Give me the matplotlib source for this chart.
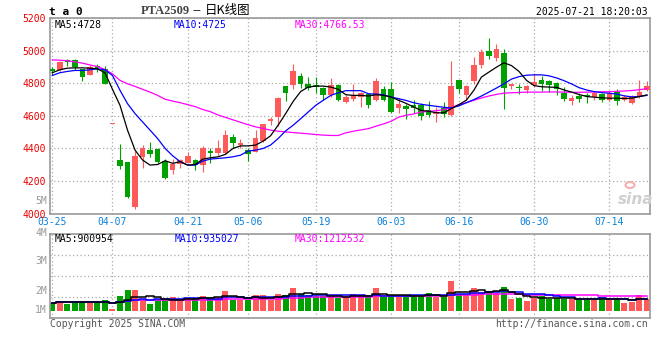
import matplotlib
matplotlib.use('Agg')
import matplotlib.pyplot as plt
from matplotlib.patches import Ellipse
import numpy as np
import pandas as pd

# ---------------- data ----------------
dates = ['03-25','03-26','03-27','03-28','03-31',
         '04-01','04-02','04-03','04-07','04-08','04-09','04-10','04-11','04-14','04-15','04-16','04-17','04-18',
         '04-21','04-22','04-23','04-24','04-25','04-28','04-29','04-30',
         '05-06','05-07','05-08','05-09','05-12','05-13','05-14','05-15','05-16','05-19','05-20','05-21','05-22','05-23',
         '05-26','05-27','05-28','05-29','05-30',
         '06-03','06-04','06-05','06-06','06-09','06-10','06-11','06-12','06-13','06-16','06-17','06-18','06-19','06-20',
         '06-23','06-24','06-25','06-26','06-27','06-30',
         '07-01','07-02','07-03','07-04','07-07','07-08','07-09','07-10','07-11','07-14','07-15','07-16','07-17','07-18','07-21']

opens = [4888,4878,4943,4943,4888,4853,4908,4888,4548,4328,4316,4037,4348,4389,4393,4324,
         4269,4301,4312,4330,4297,4381,4369,4369,4468,4420,4389,4379,4444,4566,4593,4780,
         4786,4847,4796,4786,4770,4725,4790,4684,4705,4715,4735,4695,4766,4762,4648,4660,
         4668,4668,4633,4609,4648,4603,4817,4725,4813,4914,5000,4953,4984,4782,4776,4756,
         4786,4817,4811,4802,4741,4692,4719,4729,4713,4733,4695,4745,4695,4680,4713,4756]
closes = [4872,4929,4929,4898,4837,4898,4892,4796,4548,4293,4104,4352,4403,4365,4318,4216,
          4301,4326,4350,4297,4405,4369,4403,4481,4434,4434,4363,4466,4548,4582,4709,4741,
          4872,4796,4770,4776,4725,4786,4695,4715,4729,4739,4664,4811,4695,4623,4672,4644,
          4648,4599,4607,4623,4613,4780,4766,4780,4914,4990,4969,5010,4770,4792,4768,4782,
          4807,4796,4786,4762,4705,4709,4705,4721,4741,4695,4741,4688,4713,4713,4745,4782]
highs = [4898,4935,4951,4949,4890,4910,4918,4908,4548,4426,4318,4383,4420,4440,4399,4334,
         4334,4334,4379,4334,4413,4399,4450,4511,4487,4460,4403,4511,4552,4593,4717,4782,
         4919,4864,4837,4837,4776,4831,4796,4725,4796,4745,4739,4831,4780,4807,4709,4674,
         4695,4680,4688,4654,4684,4939,4821,4786,4959,5010,5075,5041,5010,4796,4796,4786,
         4864,4847,4817,4807,4776,4725,4741,4741,4754,4741,4749,4762,4725,4725,4817,4811]
lows = [4851,4875,4908,4878,4813,4850,4868,4794,4548,4273,4098,4029,4281,4348,4308,4212,
        4240,4281,4308,4267,4257,4308,4358,4363,4403,4399,4322,4375,4440,4542,4538,4688,
        4762,4770,4756,4741,4699,4715,4688,4680,4688,4654,4648,4688,4688,4617,4619,4582,
        4619,4572,4593,4562,4593,4599,4739,4695,4796,4892,4949,4933,4644,4762,4731,4741,
        4776,4749,4745,4729,4688,4664,4684,4680,4695,4684,4688,4664,4688,4674,4709,4749]

ma5 = [4864,4882,4892,4894,4894,4892,4888,4864,4762,4664,4511,4389,4328,4297,4301,4324,
       4308,4318,4297,4301,4334,4342,4348,4363,4399,4415,4415,4420,4444,4477,4542,4613,
       4688,4749,4776,4782,4782,4776,4762,4729,4725,4725,4721,4729,4725,4715,4695,4676,
       4654,4633,4627,4619,4617,4644,4668,4695,4756,4837,4868,4898,4925,4908,4872,4817,
       4785,4778,4776,4774,4758,4745,4730,4718,4714,4710,4708,4708,4706,4708,4718,4728]
ma10 = [4847,4864,4872,4878,4878,4882,4888,4882,4847,4756,4674,4613,4562,4511,4460,4399,
        4354,4318,4297,4297,4322,4334,4338,4342,4348,4358,4383,4389,4399,4420,4460,4507,
        4542,4582,4623,4664,4695,4725,4741,4754,4754,4754,4735,4733,4729,4715,4705,4694,
        4680,4670,4664,4658,4652,4648,4660,4680,4699,4721,4745,4770,4796,4825,4840,4849,
        4851,4851,4845,4832,4815,4795,4772,4758,4748,4742,4738,4733,4722,4716,4718,4725]
ma30 = [4943,4941,4937,4931,4923,4912,4902,4884,4857,4817,4796,4780,4762,4745,4725,4701,
        4690,4680,4668,4656,4638,4625,4605,4590,4575,4560,4545,4532,4522,4512,4505,4501,
        4497,4493,4489,4485,4481,4479,4479,4495,4505,4513,4521,4536,4550,4566,4591,4603,
        4611,4623,4627,4631,4637,4650,4668,4680,4695,4709,4721,4731,4739,4741,4743,4745,
        4745,4745,4746,4746,4745,4744,4744,4745,4746,4747,4748,4750,4752,4755,4760,4766.53]

# volume, millions of lots
volumes = [0.60,0.82,0.57,0.69,0.69,0.69,0.69,0.86,0.14,1.18,1.64,1.64,0.86,0.57,0.86,0.86,
           1.11,0.86,1.01,1.01,1.18,1.11,1.11,1.61,0.86,0.86,0.86,1.27,1.27,0.86,1.37,1.27,
           1.81,1.32,1.27,1.18,1.18,1.11,1.01,1.11,1.35,1.27,1.11,1.81,1.11,1.18,1.11,1.18,
           1.27,1.18,1.40,1.11,1.11,2.39,1.37,1.37,1.81,1.54,1.59,1.44,1.88,0.94,1.01,0.79,
           1.06,1.18,0.94,1.06,0.94,0.94,0.94,0.84,0.94,1.11,0.94,1.01,0.62,0.72,1.27,0.94]

tick_dates = ['03-25','04-07','04-21','05-06','05-19','06-03','06-16','06-30','07-14']
price_ticks = [4000, 4200, 4400, 4600, 4800, 5000, 5200]
vol_labels = ['5M', '4M', '3M', '2M', '1M']

title_code = 'PTA2509'
title_name = '日K线图'
stamp = '2025-07-21 18:20:03'
ma_price_text = ['MA5:4728', 'MA10:4725', 'MA30:4766.53']
ma_vol_text = ['MA5:900954', 'MA10:935027', 'MA30:1212532']

# ---------------- style ----------------
RED = '#ff5a5a'
GREEN = '#00a000'
BLUE_TXT = '#0a80d8'
LBL_RED = '#e80000'
GRAY = '#999999'
MONO = 'DejaVu Sans Mono'
W, H = 660, 360

fig = plt.figure(figsize=(W/100, H/100), dpi=100)
fig.patch.set_facecolor('white')

def rect(l, t, r, b):
    return [l/W, 1-b/H, (r-l)/W, (b-t)/H]

def ftext(px, py, s, **kw):
    return fig.text(px/W, 1-py/H, s, **kw)

ax = fig.add_axes(rect(50, 18, 650, 213.5))
axv = fig.add_axes(rect(50, 234, 650, 318.3))

o = np.array(opens, float); c = np.array(closes, float)
hi = np.array(highs, float); lo = np.array(lows, float)
x = np.arange(len(dates))
up = c >= o
col = np.where(up, RED, GREEN)

# candles
ax.vlines(x, lo, hi, colors=col, lw=0.8, zorder=2)
ax.bar(x, np.maximum(np.abs(c-o), 6), bottom=np.minimum(o, c), width=0.74,
       color=col, lw=0, zorder=3)
ax.plot(x, ma30, color='#ff00ff', lw=0.9, zorder=4)
ax.plot(x, ma10, color='#0000ff', lw=0.9, zorder=5)
ax.plot(x, ma5, color='black', lw=0.9, zorder=6)

# volume
v = pd.Series(volumes)
axv.bar(x, v, width=0.8, color=col, lw=0, zorder=2)
for n, cc in ((30, '#ff00ff'), (10, '#0000ff'), (5, 'black')):
    axv.plot(x, v.rolling(n, min_periods=1).mean(), color=cc, lw=1.1,
             drawstyle='steps-mid', zorder=3)

tick_idx = [dates.index(d) for d in tick_dates]
for a in (ax, axv):
    a.set_xlim(-0.3, 79.4)
    for s in a.spines.values():
        s.set_color(GRAY); s.set_linewidth(1.2)
    a.tick_params(length=0)
    a.set_xticks(tick_idx)
    a.grid(True, color='#aaaaaa', ls=(0, (1, 2)), lw=0.9)
    a.set_axisbelow(True)

ax.set_ylim(4000, 5200)
ax.set_yticks(price_ticks)
ax.set_yticklabels([str(p) for p in price_ticks], color=LBL_RED,
                   fontsize=7, family=MONO)
ax.tick_params(axis='y', pad=3)
ax.set_xticklabels(tick_dates, color=BLUE_TXT, fontsize=7, family=MONO)
ax.tick_params(axis='x', pad=2.5)

vlo, vhi = -0.613, 6.185
axv.set_ylim(vlo, vhi)
axv.set_yticks(np.linspace(vlo, vhi, 5)[1:-1])
axv.set_yticklabels([])
axv.set_xticklabels([])

# volume axis labels (Sina places these at fixed rows)
for s, py in zip(vol_labels, [201, 232.5, 261, 291, 310]):
    ftext(47, py, s, ha='right', va='center', color=GRAY, fontsize=7, family=MONO)

# header
ftext(49, 12, 't a 0', ha='left', va='center', fontsize=8, family=MONO,
      fontweight='bold', color='black')
ftext(140.5, 10.5, title_code, ha='left', va='center', fontsize=9,
      family='Liberation Serif', color='#444444', fontweight='bold')
ftext(192, 10.5, '－', ha='left', va='center', fontsize=7,
      family=['Noto Sans CJK SC', 'DejaVu Sans'], color='black')
ftext(205, 10.5, title_name, ha='left', va='center', fontsize=9,
      family=['Noto Sans CJK SC', 'DejaVu Sans'], color='black')
ftext(648, 12.3, stamp, ha='right', va='center', fontsize=7, family=MONO, color='black')

for s, px, cc in zip(ma_price_text, [54.3, 174, 294.7], ['black', '#0000ff', '#ff00ff']):
    ftext(px, 24.5, s, ha='left', va='center', fontsize=7, family=MONO, color=cc)
for s, px, cc in zip(ma_vol_text, [54.3, 175, 295], ['black', '#0000ff', '#ff00ff']):
    ftext(px, 238.5, s, ha='left', va='center', fontsize=7, family=MONO, color=cc)

ftext(50, 324, 'Copyright 2025 SINA.COM', ha='left', va='center', fontsize=7,
      family=MONO, color='#555555')
ftext(648, 324, 'http://finance.sina.com.cn', ha='right', va='center', fontsize=7,
      family=MONO, color='#555555')

# watermark
ftext(636, 200, 'sina', ha='center', va='center', fontsize=11, fontstyle='italic',
      fontweight='bold', color='#cfcfcf', family='DejaVu Sans')
fig.add_artist(Ellipse((630/W, 1-185/H), 9/W, 6/H, transform=fig.transFigure,
                       fill=False, edgecolor='#f3b0b0', lw=1.5))

fig.savefig('out.png', dpi=100)
